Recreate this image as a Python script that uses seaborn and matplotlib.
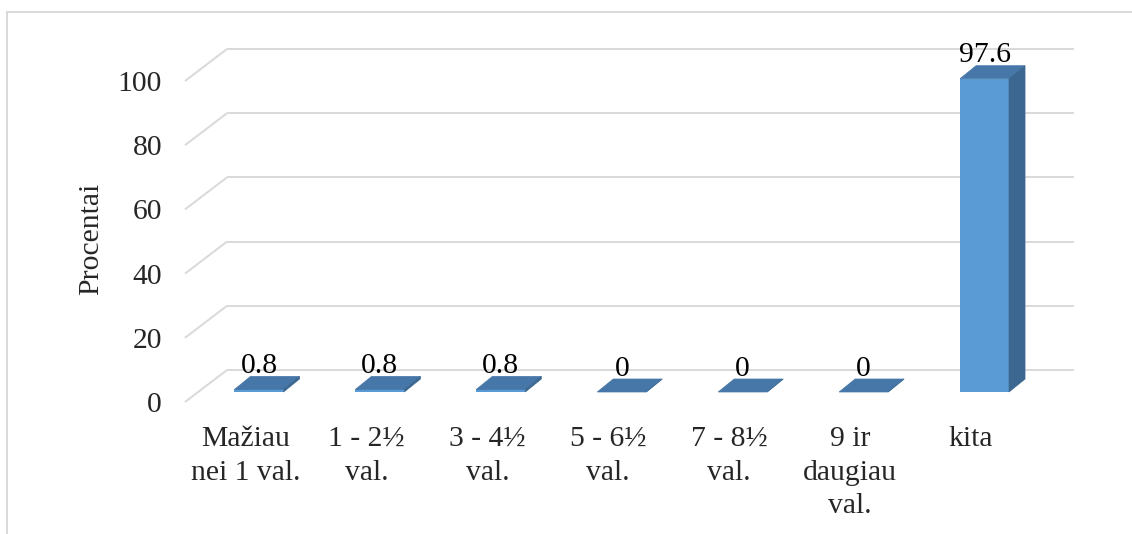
import matplotlib
matplotlib.use("Agg")
import matplotlib.pyplot as plt
from matplotlib.lines import Line2D
from matplotlib.patches import Polygon
from matplotlib.transforms import ScaledTranslation
import seaborn as sns

categories = ["Mažiau\nnei 1 val.", "1 - 2½\nval.", "3 - 4½\nval.", "5 - 6½\nval.",
              "7 - 8½\nval.", "9 ir\ndaugiau\nval.", "kita"]
values = [0.8, 0.8, 0.8, 0, 0, 0, 97.6]
y_ticks = [0, 20, 40, 60, 80, 100]
y_label = "Procentai"

FRONT = "#5B9BD5"
TOP = "#4677A8"
SIDE = "#3B6790"
GRID = "#D9D9D9"

sns.set_style("white")
plt.rcParams["font.family"] = ["Liberation Serif", "DejaVu Serif"]
FS = 21.3

W, H, DPI = 1132, 534, 100
fig = plt.figure(figsize=(W / DPI, H / DPI), dpi=DPI)
ax_left, ax_right = 198.5, 1045.0
ax_bottom_px, ppy = 392.0, 3.21
ax = fig.add_axes([ax_left / W, (H - ax_bottom_px) / H, (ax_right - ax_left) / W, 100 * ppy / H])

sns.barplot(x=categories, y=values, color=FRONT, saturation=1, width=0.405, ax=ax, zorder=3,
            linewidth=0)
ax.set_xlim(-0.5, 6.5)
ax.set_ylim(0, 100)
for s in ax.spines.values():
    s.set_visible(False)

ppx = (ax_right - ax_left) / 7.0
# depth offsets (pixels) converted into data units
bar_dx, bar_dy = 16 / ppx, 13 / ppy
back_dx, back_dy = 28.5 / ppx, 22 / ppy
front_dx, front_dy = -13.5 / ppx, -10 / ppy

# back wall gridlines and floor/side slants
for t in y_ticks:
    ax.plot([-0.5 + back_dx, 6.5 + back_dx], [t + back_dy, t + back_dy], color=GRID, lw=1.4,
            zorder=0, clip_on=False, solid_capstyle="butt")
    ax.plot([-0.5 + front_dx, -0.5 + back_dx], [t + front_dy, t + back_dy], color=GRID, lw=1.4,
            zorder=0, clip_on=False, solid_capstyle="butt")

# 3D faces for bars
for p in list(ax.patches):
    x0 = p.get_x()
    x1 = x0 + p.get_width()
    y0 = p.get_y()
    y1 = y0 + p.get_height()
    top = Polygon([(x0, y1), (x1, y1), (x1 + bar_dx, y1 + bar_dy), (x0 + bar_dx, y1 + bar_dy)],
                  closed=True, facecolor=TOP, edgecolor=TOP, lw=0.5, zorder=4, clip_on=False)
    side = Polygon([(x1, y0), (x1, y1), (x1 + bar_dx, y1 + bar_dy), (x1 + bar_dx, y0 + bar_dy)],
                   closed=True, facecolor=SIDE, edgecolor=SIDE, lw=0.5, zorder=4, clip_on=False)
    ax.add_patch(top)
    ax.add_patch(side)

# value labels
for i, v in enumerate(values):
    ax.annotate(f"{v:g}", (i, v), xytext=(0, 16.5 * 72 / DPI), textcoords="offset points",
                ha="center", va="baseline", fontsize=FS, color="black", zorder=6)

# ticks
ax.set_yticks(y_ticks)
ax.set_yticklabels([str(t) for t in y_ticks], fontsize=FS)
ax.tick_params(axis="y", length=0, pad=23 * 72 / DPI)
ax.tick_params(axis="x", length=0, pad=24 * 72 / DPI, labelsize=FS)
ax.set_ylabel("")
ax.set_xlabel("")
off = ScaledTranslation(-13.5 / DPI, -10 / DPI, fig.dpi_scale_trans)
for lab in ax.get_yticklabels() + ax.get_xticklabels():
    lab.set_transform(lab.get_transform() + off)
for lab in ax.get_xticklabels():
    lab.set_linespacing(1.38)

fig.text(91 / W, 1 - 239 / H, y_label, rotation=90, ha="center", va="center", fontsize=FS)

# chart area border
fig.add_artist(Line2D([7 / W, 7 / W], [0, 1 - 12 / H], transform=fig.transFigure, color=GRID, lw=1.4))
fig.add_artist(Line2D([7 / W, 1], [1 - 12 / H, 1 - 12 / H], transform=fig.transFigure, color=GRID, lw=1.4))

fig.savefig("out.png", dpi=DPI, facecolor="white")
